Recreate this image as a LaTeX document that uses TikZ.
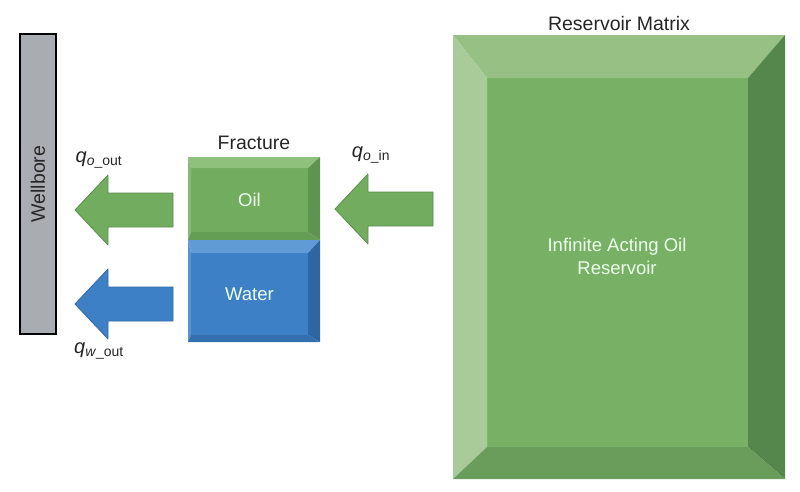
\documentclass[tikz,border=0pt]{standalone}
\usepackage{fontspec}
\setmainfont{Liberation Sans}
\usetikzlibrary{positioning}

\definecolor{wellgray}{HTML}{A9ACB1}
\definecolor{oilface}{HTML}{71AC5F}
\definecolor{oiltop}{HTML}{8FC07C}
\definecolor{oilside}{HTML}{5E944F}
\definecolor{oilbottom}{HTML}{649D54}
\definecolor{oilline}{HTML}{5A8F49}
\definecolor{waterface}{HTML}{3D80C6}
\definecolor{watertop}{HTML}{609BD6}
\definecolor{waterside}{HTML}{2D66A3}
\definecolor{waterbottom}{HTML}{3470B0}
\definecolor{waterline}{HTML}{2F6AA7}
\definecolor{resface}{HTML}{78B166}
\definecolor{restop}{HTML}{97C184}
\definecolor{resleft}{HTML}{A9CB9A}
\definecolor{resright}{HTML}{55864C}
\definecolor{resbottom}{HTML}{6A9C5B}

\tikzset{
  box/.style={inner sep=0pt, outer sep=0pt},
  lbl/.style={font=\fontsize{19.5}{21}\selectfont, text=black!85},
  inlbl/.style={font=\fontsize{18.5}{23}\selectfont, text=white!92!green, align=center},
  qlbl/.style={font=\fontsize{20}{22}\selectfont, text=black!85}
}

\newcommand\flowarrow[5]{% tip x, centre y, end x, fill, line
  \filldraw[fill=#4, draw=#5, line width=0.8pt, line join=round]
    (#1,#2) -- (#1+33,#2-35) -- (#1+33,#2-17) -- (#3,#2-17)
    -- (#3,#2+17) -- (#1+33,#2+17) -- (#1+33,#2+35) -- cycle;
}

\begin{document}
\begin{tikzpicture}[x=1pt,y=-1pt]
  \useasboundingbox (0,0) rectangle (800,491);

  % wellbore
  \node[box, draw=black, line width=1.2pt, fill=wellgray, rotate=90,
        minimum width=300pt, minimum height=36pt, lbl] (wellbore) at (38,184) {Wellbore};

  % reservoir matrix with bevelled edges
  \node[box, minimum width=332pt, minimum height=444pt] (res) at (619,257) {};
  \node[box, fill=resface, minimum width=261pt, minimum height=369pt] (resin) at (617.5,262.5) {};
  \fill[restop] (res.north west) -- (res.north east) -- (resin.north east) -- (resin.north west) -- cycle;
  \fill[resleft] (res.north west) -- (resin.north west) -- (resin.south west) -- (res.south west) -- cycle;
  \fill[resright] (res.north east) -- (res.south east) -- (resin.south east) -- (resin.north east) -- cycle;
  \fill[resbottom] (res.south west) -- (resin.south west) -- (resin.south east) -- (res.south east) -- cycle;
  \node[inlbl] (restext) at (617,256) {Infinite Acting Oil\\Reservoir};
  \node[lbl, above=1pt of res] (reslabel) {Reservoir Matrix};

  % fracture: oil on top of water
  \node[box, minimum width=132pt, minimum height=83pt] (oil) at (254,198.5) {};
  \node[box, fill=oilface, minimum width=117pt, minimum height=64pt] (oilin) at (249.5,200) {};
  \fill[oiltop] (oil.north west) -- (oil.north east) -- (oilin.north east) -- (oilin.north west) -- cycle;
  \fill[oiltop!70!oilface] (oil.north west) -- (oilin.north west) -- (oilin.south west) -- (oil.south west) -- cycle;
  \fill[oilside] (oil.north east) -- (oil.south east) -- (oilin.south east) -- (oilin.north east) -- cycle;
  \fill[oilbottom] (oil.south west) -- (oilin.south west) -- (oilin.south east) -- (oil.south east) -- cycle;
  \node[inlbl] at (oilin.center) {Oil};

  \node[box, minimum width=132pt, minimum height=102pt] (water) at (254,291) {};
  \node[box, fill=waterface, minimum width=117pt, minimum height=82pt] (waterin) at (249.5,294) {};
  \fill[watertop] (water.north west) -- (water.north east) -- (waterin.north east) -- (waterin.north west) -- cycle;
  \fill[watertop!70!waterface] (water.north west) -- (waterin.north west) -- (waterin.south west) -- (water.south west) -- cycle;
  \fill[waterside] (water.north east) -- (water.south east) -- (waterin.south east) -- (waterin.north east) -- cycle;
  \fill[waterbottom] (water.south west) -- (waterin.south west) -- (waterin.south east) -- (water.south east) -- cycle;
  \node[inlbl] at (waterin.center) {Water};

  \node[lbl, above=4pt of oil] (fraclabel) {Fracture};

  % flow arrows
  \flowarrow{335}{209}{433}{oilface}{oilline}
  \flowarrow{75}{210}{173}{oilface}{oilline}
  \flowarrow{75}{304}{173}{waterface}{waterline}

  \node[qlbl] (qoin) at (371,155) {\textit{q}\textsubscript{\textit{o}\_in}};
  \node[qlbl] (qoout) at (99,160) {\textit{q}\textsubscript{\textit{o}\_out}};
  \node[qlbl] (qwout) at (99,351) {\textit{q}\textsubscript{\textit{w}\_out}};
\end{tikzpicture}
\end{document}
